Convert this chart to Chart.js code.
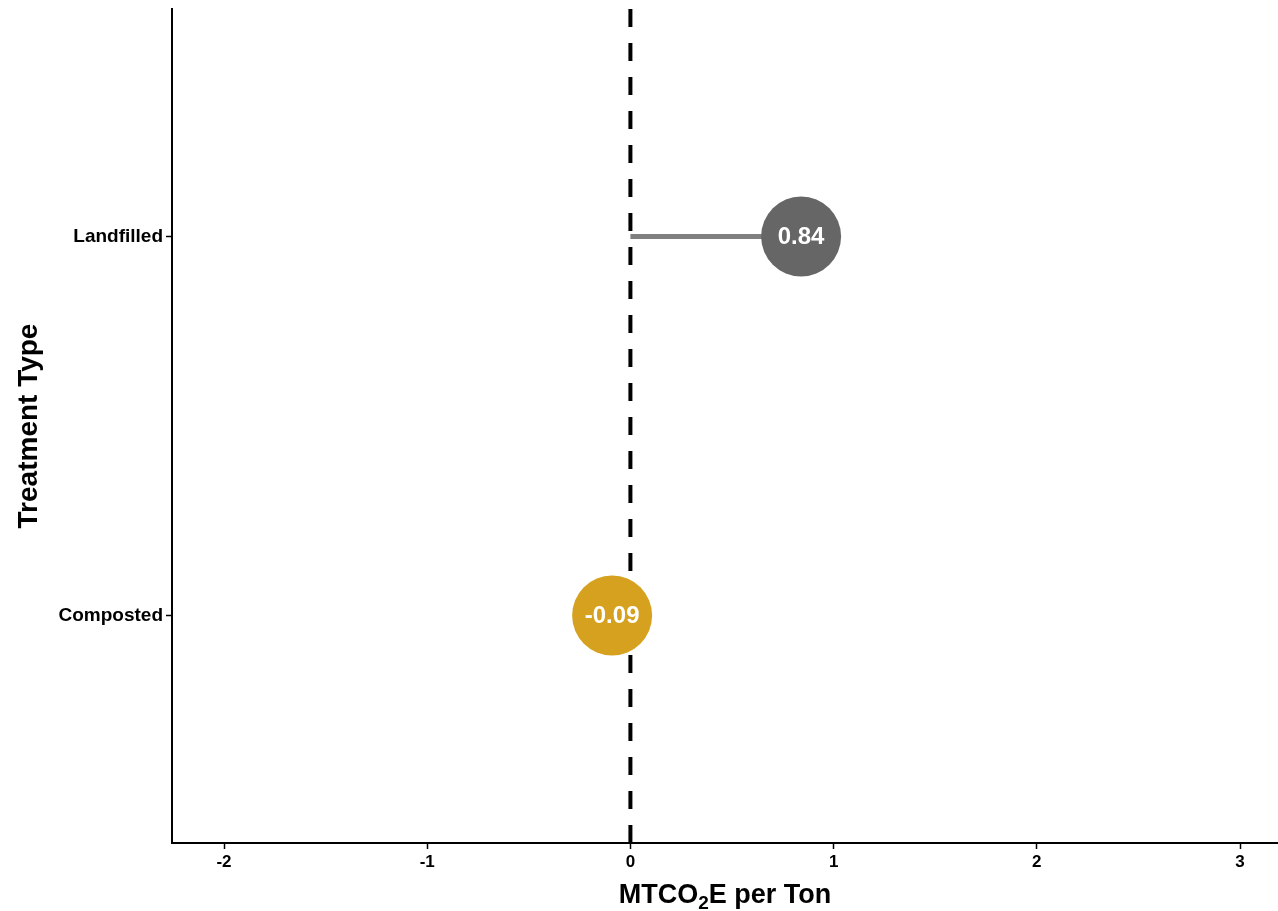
<!DOCTYPE html>
<html>
<head>
<meta charset="utf-8">
<script src="https://cdn.jsdelivr.net/npm/chart.js@4"></script>
<style>
  body { margin: 0; background: #fff; }
  #wrap { width: 1278px; height: 911px; }
</style>
</head>
<body>
<div id="wrap"><canvas id="lollipop" width="1278" height="911"></canvas></div>
<script>
// ========= Data =========
const categories = ['Composted', 'Landfilled'];
const values = [-0.09, 0.84];
const dotColors = ['#D5A11E', '#666666'];
const xTicks = [-2, -1, 0, 1, 2, 3];
const xMin = -2.256, xMax = 3.187;
const yMin = 0.4, yMax = 2.6;

const FONT = "'Liberation Sans', Arial, Helvetica, sans-serif";
Chart.defaults.font.family = FONT;
Chart.defaults.color = '#000';

// segments from zero to each value
const segments = categories.map((c, i) => ({
  type: 'line',
  data: [{ x: 0, y: i + 1 }, { x: values[i], y: i + 1 }],
  borderColor: '#808080',
  borderWidth: 5,
  pointRadius: 0,
  order: 2
}));

// value labels inside the dots
const dotLabels = {
  id: 'dotLabels',
  afterDatasetsDraw(chart) {
    const meta = chart.getDatasetMeta(0);
    const ctx = chart.ctx;
    ctx.save();
    ctx.font = 'bold 24px ' + FONT;
    ctx.fillStyle = '#fff';
    ctx.textAlign = 'center';
    ctx.textBaseline = 'middle';
    meta.data.forEach((pt, i) => {
      ctx.fillText(values[i].toFixed(2), pt.x, pt.y + 1);
    });
    ctx.restore();
  }
};

// x axis title with subscript
const xTitle = {
  id: 'xTitle',
  afterDraw(chart) {
    const ctx = chart.ctx;
    const a = chart.chartArea;
    const parts = [['MTCO', 27, 0], ['2', 19, 6], ['E per Ton', 27, 0]];
    ctx.save();
    ctx.fillStyle = '#000';
    ctx.textBaseline = 'alphabetic';
    let total = 0;
    parts.forEach(p => { ctx.font = 'bold ' + p[1] + 'px ' + FONT; total += ctx.measureText(p[0]).width; });
    let x = (a.left + a.right) / 2 - total / 2;
    const base = 903;
    parts.forEach(p => {
      ctx.font = 'bold ' + p[1] + 'px ' + FONT;
      ctx.fillText(p[0], x, base + p[2]);
      x += ctx.measureText(p[0]).width;
    });
    ctx.restore();
  }
};

new Chart(document.getElementById('lollipop').getContext('2d'), {
  type: 'scatter',
  data: {
    datasets: [
      {
        label: 'dots',
        data: categories.map((c, i) => ({ x: values[i], y: i + 1 })),
        backgroundColor: dotColors,
        borderWidth: 0,
        pointRadius: 40,
        pointHoverRadius: 40,
        order: 1
      },
      ...segments,
      {
        type: 'line',
        label: 'zero',
        data: [{ x: 0, y: yMax }, { x: 0, y: yMin }],
        borderColor: '#000',
        borderWidth: 4,
        borderDash: [18, 16],
        pointRadius: 0,
        order: 3
      }
    ]
  },
  options: {
    responsive: false,
    animation: false,
    layout: { autoPadding: false, padding: { top: 9, right: 0, left: 0, bottom: 0 } },
    plugins: {
      legend: { display: false },
      tooltip: { enabled: false }
    },
    scales: {
      x: {
        type: 'linear',
        min: xMin,
        max: xMax,
        afterBuildTicks: s => { s.ticks = xTicks.map(v => ({ value: v })); },
        afterFit: s => { s.height = 68; },
        grid: { drawOnChartArea: false, drawTicks: true, tickLength: 6, tickColor: '#000', tickWidth: 1.5 },
        border: { display: true, color: '#000', width: 2 },
        ticks: { font: { size: 17, weight: 'bold' }, color: '#000', padding: 3, maxRotation: 0 }
      },
      y: {
        type: 'linear',
        min: yMin,
        max: yMax,
        afterBuildTicks: s => { s.ticks = categories.map((c, i) => ({ value: i + 1 })); },
        afterFit: s => { s.width = 172; s.paddingTop = 0; s.paddingBottom = 0; },
        grid: { drawOnChartArea: false, drawTicks: true, tickLength: 6, tickColor: '#000', tickWidth: 1.5 },
        border: { display: true, color: '#000', width: 2 },
        ticks: {
          font: { size: 19, weight: 'bold', lineHeight: 0.8 },
          color: '#000',
          padding: 3,
          callback: v => categories[v - 1]
        },
        title: {
          display: true,
          text: 'Treatment Type',
          font: { size: 28, weight: 'bold' },
          color: '#000',
          padding: { top: 12, bottom: 0 }
        }
      }
    }
  },
  plugins: [dotLabels, xTitle]
});
</script>
</body>
</html>
